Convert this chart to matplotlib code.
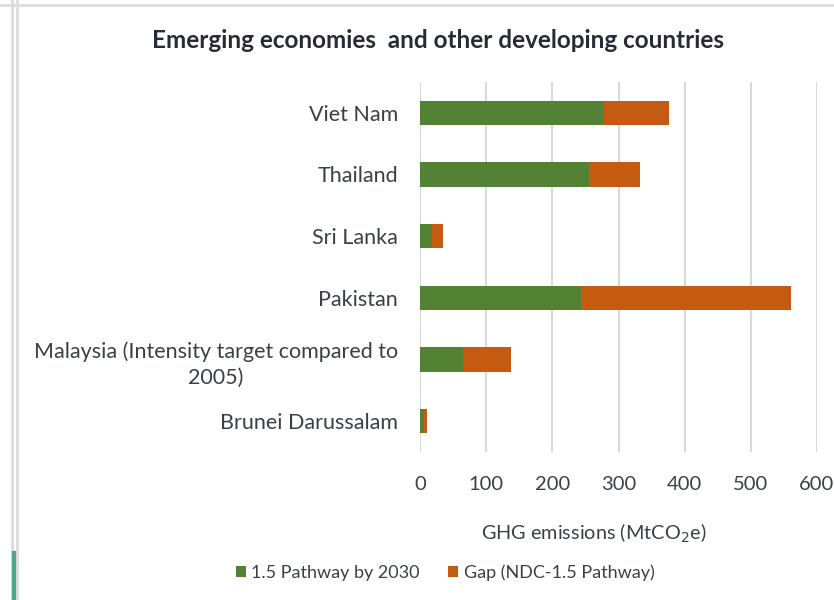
import matplotlib
matplotlib.use("Agg")
import matplotlib.pyplot as plt
from matplotlib.lines import Line2D

# categories from bottom to top, as drawn
countries = ["Brunei Darussalam",
             "Malaysia (Intensity target compared to\n2005)",
             "Pakistan", "Sri Lanka", "Thailand", "Viet Nam"]
pathway = [6, 65, 243, 18, 256, 278]    # 1.5 Pathway by 2030
gap = [5, 72, 318, 17, 77, 99]          # Gap (NDC-1.5 Pathway)
xticks = [0, 100, 200, 300, 400, 500, 600]

green = "#548235"
orange = "#c55a11"
txt = "#3b3f4a"

plt.rcParams['font.family'] = ['Lato', 'DejaVu Sans']

fig = plt.figure(figsize=(8.34, 6.0), dpi=100)
ax = fig.add_axes([420/834, 1 - 452/600, (817 - 420)/834, (452 - 82)/600])

ypos = range(len(countries))
ax.barh(ypos, pathway, height=0.39, color=green, label="1.5 Pathway by 2030", zorder=3)
ax.barh(ypos, gap, left=pathway, height=0.39, color=orange,
        label="Gap (NDC-1.5 Pathway)", zorder=3)

ax.set_xlim(0, 600)
ax.set_ylim(-0.5, len(countries) - 0.5)
ax.set_xticks(xticks)
ax.set_yticks(list(ypos))
ax.set_yticklabels(countries, fontsize=15.5, color=txt, multialignment='center',
                   linespacing=1.35)
ax.tick_params(axis='x', labelsize=14.5, colors=txt, length=0, pad=17)
ax.tick_params(axis='y', length=0, pad=16)
ax.grid(axis='x', color='#d9d9d9', linewidth=1.5, zorder=0)
for s in ax.spines.values():
    s.set_visible(False)

fig.text(438/834, 1 - 40/600, "Emerging economies  and other developing countries",
         ha='center', va='center', fontsize=17.5, fontweight='bold', color='#262b36')
fig.text(594/834, 1 - 533/600, "GHG emissions (MtCO$_2$e)",
         ha='center', va='center', fontsize=14.3, color=txt)

fig.legend(loc='center', bbox_to_anchor=(445/834, 1 - 573/600), ncol=2,
           frameon=False, fontsize=13, labelcolor=txt,
           handlelength=0.55, handleheight=0.55, handletextpad=0.3, columnspacing=1.6)

# window border of the screenshot
fig.add_artist(Line2D([0, 1], [1 - 5/600, 1 - 5/600], color='#dcdcdc', lw=2))
fig.add_artist(Line2D([12/834, 12/834], [0, 1], color='#dcdcdc', lw=2))
fig.add_artist(Line2D([17/834, 17/834], [0, 1], color='#dcdcdc', lw=2))
fig.add_artist(Line2D([14/834, 14/834], [0, 1 - 553/600], color='#4aa68f', lw=3))

fig.savefig("out.png", dpi=100)
